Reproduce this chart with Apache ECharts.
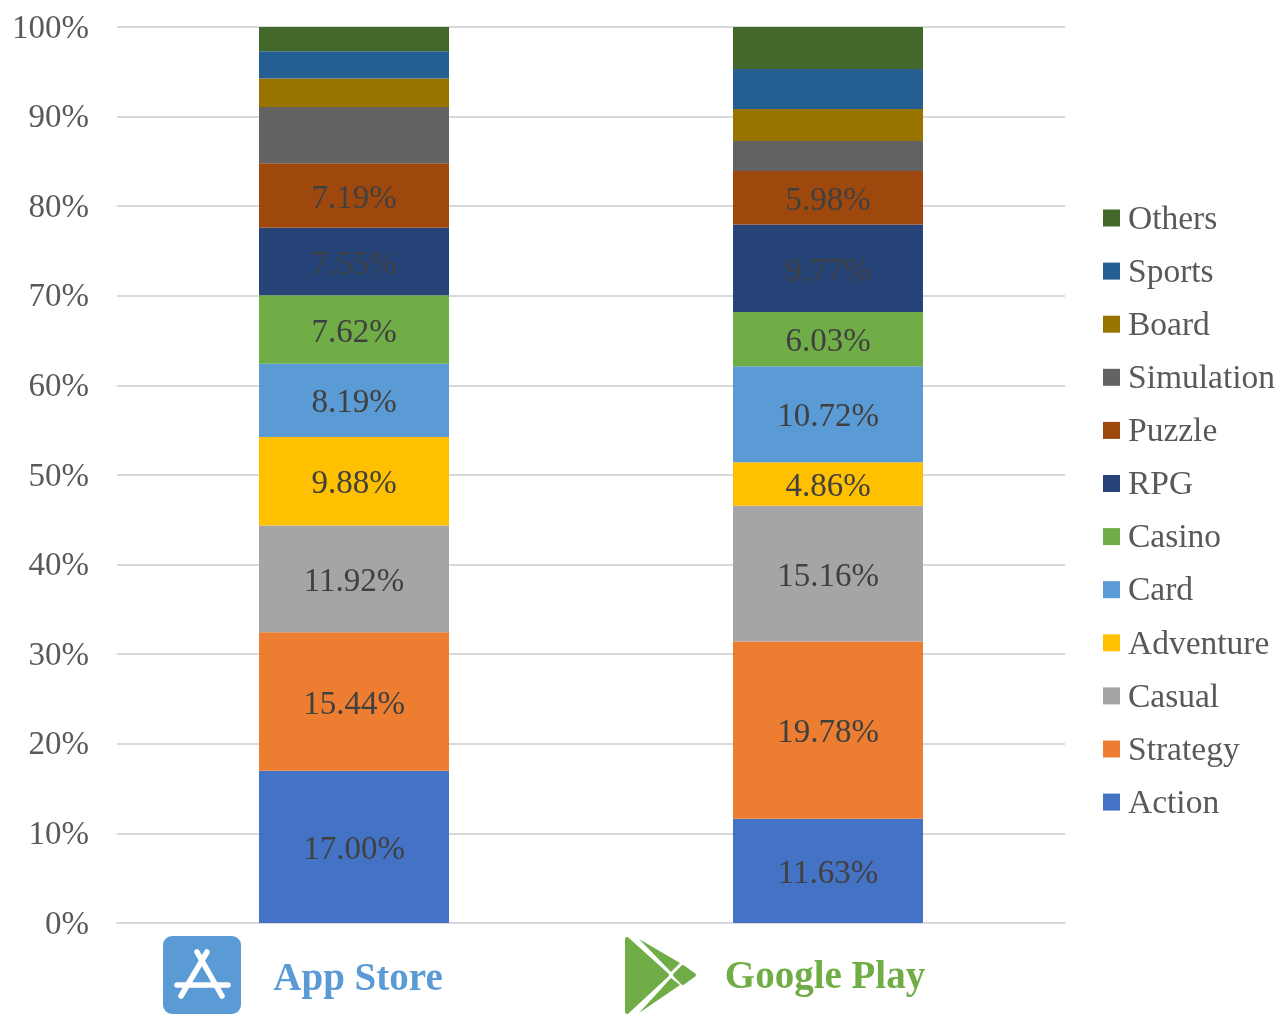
<!DOCTYPE html>
<html>
<head>
<meta charset="utf-8">
<style>html,body{margin:0;padding:0;background:#fff}#chart{width:1283px;height:1019px}</style>
<script src="https://cdn.jsdelivr.net/npm/echarts@6/dist/echarts.min.js"></script>
</head>
<body>
<div id="chart"></div>
<script>
// Share of mobile games by genre on each store, in percent.
const stores = ['App Store', 'Google Play'];
const genres = ['Action','Strategy','Casual','Adventure','Card','Casino','RPG','Puzzle','Simulation','Board','Sports','Others'];
const action = [17.00, 11.63];
const strategy = [15.44, 19.78];
const casual = [11.92, 15.16];
const adventure = [9.88, 4.86];
const card = [8.19, 10.72];
const casino = [7.62, 6.03];
const rpg = [7.55, 9.77];
const puzzle = [7.19, 5.98];
const simulation = [6.28, 3.35];
const board = [3.18, 3.57];
const sports = [3.05, 4.45];
const others = [2.70, 4.70];
const genreValues = [action,strategy,casual,adventure,card,casino,rpg,puzzle,simulation,board,sports,others];
const genreColors = ['#4472C4','#ED7D31','#A5A5A5','#FFC000','#5B9BD5','#70AD47','#264478','#9E480E','#636363','#997300','#255E91','#43682B'];
const labelledGenres = 8;

const SERIF = '"Liberation Serif","Times New Roman",serif';
const chart = echarts.init(document.getElementById('chart'), null, {renderer:'canvas'});

const white = {stroke:'#fff', lineWidth:5.5, lineCap:'round'};
const appGreen = '#70AD47';

chart.setOption({
  animation:false,
  backgroundColor:'#fff',
  grid:{left:117, right:218, top:27, bottom:96, containLabel:false},
  legend:{
    orient:'vertical',
    left:1098, top:198,
    data:genres.slice().reverse(),
    icon:'rect',
    itemWidth:17, itemHeight:17,
    itemGap:19.1,
    formatter:n=>'{t|'+n+'}',
    textStyle:{
      rich:{t:{fontFamily:SERIF, fontSize:33.5, color:'#595959', padding:[4,0,0,3]}}
    }
  },
  xAxis:{
    type:'category',
    data:stores,
    axisLine:{show:true, lineStyle:{color:'#D9D9D9', width:2}},
    axisTick:{show:false},
    axisLabel:{
      margin:35,
      formatter:(v,i)=> i===0 ? '{a|'+v+'}' : '{g|'+v+'}',
      rich:{
        a:{fontFamily:SERIF, fontSize:39, fontWeight:'bold', color:'#5B9BD5', padding:[2,0,0,8]},
        g:{fontFamily:SERIF, fontSize:39, fontWeight:'bold', color:'#70AD47', padding:[0,6,0,0]}
      }
    }
  },
  yAxis:{
    type:'value',
    min:0, max:100, interval:10,
    axisLine:{show:false},
    axisTick:{show:false},
    splitLine:{lineStyle:{color:'#D9D9D9', width:2}},
    axisLabel:{
      margin:28,
      formatter:v=>'{l|'+v+'%}',
      rich:{l:{fontFamily:SERIF, fontSize:33, color:'#595959', padding:[4,0,0,0]}}
    }
  },
  series:genres.map((name,i)=>({
    name,
    type:'bar',
    stack:'share',
    barWidth:190,
    data:genreValues[i],
    itemStyle:{color:genreColors[i]},
    label:{
      show:i<labelledGenres,
      position:'inside',
      offset:[0,3.5],
      fontFamily:SERIF, fontSize:33, color:'#404040',
      formatter:p=>p.value.toFixed(2)+'%'
    }
  })),
  graphic:[
    // App Store badge
    {type:'group', silent:true, children:[
      {type:'rect', shape:{x:163,y:936,width:78,height:78,r:9}, style:{fill:'#5B9BD5'}},
      {type:'line', shape:{x1:207,y1:952,x2:181,y2:996}, style:white},
      {type:'line', shape:{x1:197,y1:952,x2:222,y2:996}, style:white},
      {type:'line', shape:{x1:177,y1:985,x2:228,y2:985}, style:white}
    ]},
    // Google Play badge
    {type:'group', silent:true, children:[
      {type:'polygon', shape:{points:[[627,939],[667,975],[627,1012]]}, style:{fill:appGreen, stroke:appGreen, lineWidth:4, lineJoin:'round'}},
      {type:'polygon', shape:{points:[[639,939],[680,963],[671,972]]}, style:{fill:appGreen}},
      {type:'polygon', shape:{points:[[639,1013],[680,985],[671,978]]}, style:{fill:appGreen}},
      {type:'polygon', shape:{points:[[683,967],[694,975],[683,983],[675,975]]}, style:{fill:appGreen, stroke:appGreen, lineWidth:4, lineJoin:'round'}}
    ]}
  ]
});
</script>
</body>
</html>
